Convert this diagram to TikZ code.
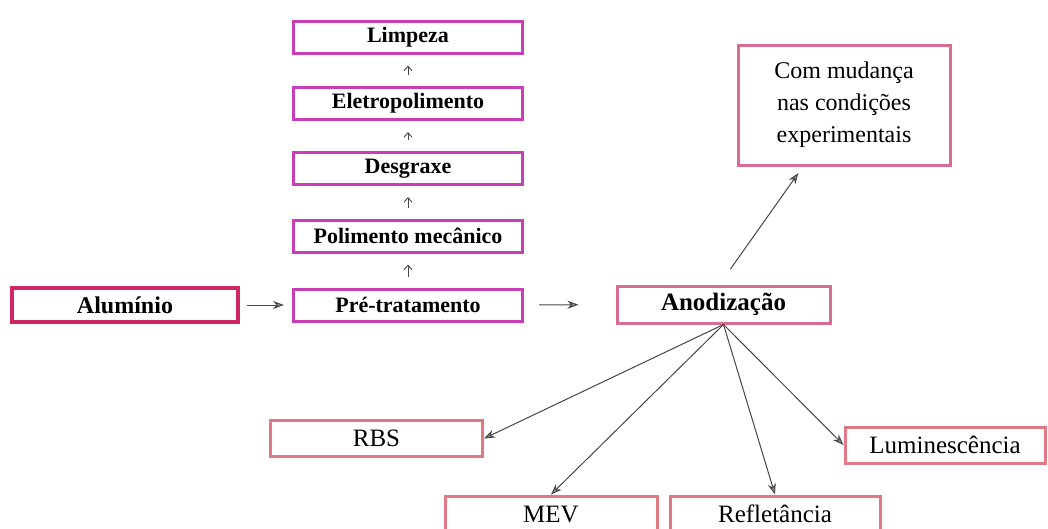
\documentclass[tikz,border=0pt]{standalone}
\usepackage{fontspec}
\setmainfont{Liberation Serif}
\usetikzlibrary{arrows.meta}
\definecolor{aluc}{RGB}{208,38,100}
\definecolor{chainc}{RGB}{200,62,182}
\definecolor{rosec}{RGB}{218,108,145}
\definecolor{salmc}{RGB}{226,120,132}
\definecolor{arrc}{RGB}{70,70,70}
\tikzset{
  box/.style={draw, line width=3pt, fill=white, inner sep=0pt, align=center},
  alubox/.style={box, draw=aluc, line width=3.5pt, minimum width=226pt, minimum height=34pt,
    font=\bfseries\fontsize{24}{28}\selectfont},
  chainbox/.style={box, draw=chainc, minimum width=229pt, minimum height=32pt,
    font=\bfseries\fontsize{22}{26}\selectfont},
  anodbox/.style={box, draw=rosec, minimum width=213pt, minimum height=37pt,
    font=\bfseries\fontsize{25}{29}\selectfont},
  resbox/.style={box, draw=salmc, minimum width=212pt, minimum height=36pt,
    font=\fontsize{25}{29}\selectfont},
  arr/.style={draw=arrc, line width=1pt, -{Stealth[length=11pt,width=8pt,open,fill=arrc!60]}},
  uparr/.style={draw=arrc, line width=0.9pt, -{Straight Barb[length=4.5pt,width=8pt]},
    shorten >=11pt, shorten <=11pt}
}
\begin{document}
\begin{tikzpicture}[x=1pt, y=-1pt]
\clip (0,0) rectangle (1048,528);
\fill[white] (0,0) rectangle (1048,528);

% input and pre-treatment chain
\node[alubox] (alu) at (125,305) {Alumínio};
\node[chainbox] (pre) at (408,305) {Pré-tratamento};
\node[chainbox] (pol) at (408,236) {Polimento mecânico};
\node[chainbox] (desg) at (408,168.5) {Desgraxe};
\node[chainbox] (elet) at (408,103.5) {Eletropolimento};
\node[chainbox] (limp) at (408,37) {Limpeza};

% anodizing and its branches
\node[anodbox] (anod) at (723.5,304.5) {Anodização};
\node[box, draw=rosec, minimum width=212pt, minimum height=120pt,
  font=\fontsize{24}{32}\selectfont] (com) at (844,105)
  {Com mudança\\nas condições\\experimentais};
\node[resbox] (rbs) at (376.5,438.5) {RBS};
\node[resbox] (mev) at (551,514) {MEV};
\node[resbox, minimum width=210pt] (refl) at (775,514) {Refletância};
\node[resbox, minimum width=200pt] (lum) at (945,445) {Luminescência};

% connectors
\draw[arr, shorten >=8pt, shorten <=7pt] (alu) -- (pre);
\draw[arr, shorten >=37pt, shorten <=15pt] (pre) -- (anod);
\draw[uparr] (pre) -- (pol);
\draw[uparr] (pol) -- (desg);
\draw[uparr] (desg) -- (elet);
\draw[uparr] (elet) -- (limp);
\draw[arr, shorten <=19pt, shorten >=8pt] ([xshift=-4pt]anod.north) -- ([xshift=-41pt]com.south);
\draw[arr] (anod.south) -- (rbs.east);
\draw[arr] (anod.south) -- (mev.north);
\draw[arr] (anod.south) -- (refl.north);
\draw[arr] (anod.south) -- (lum.west);
\end{tikzpicture}
\end{document}
